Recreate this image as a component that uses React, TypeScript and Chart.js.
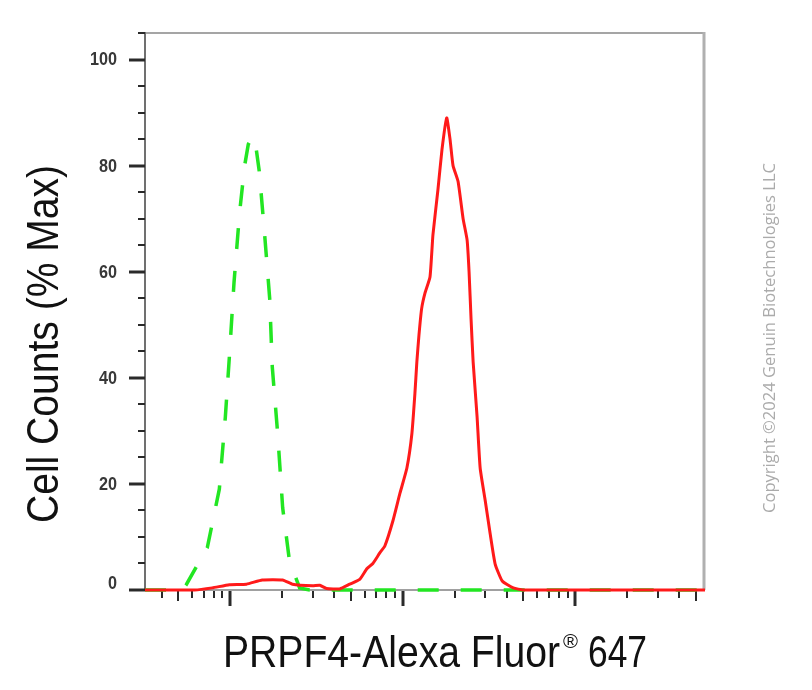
import { useEffect, useRef } from "react";
import { Chart, registerables } from "chart.js";

Chart.register(...registerables);

// ---- data (fluorescence intensity, % of max) ----
const redX = [3.2, 6.2, 7.85, 9.87, 12.4, 15.3, 20.1, 22.9, 30.0, 33.0, 36.1, 43.0, 49.2, 56.2, 61.8, 67.0, 73.5, 78.6, 87.5, 96.1, 105.5, 112.8, 117.4, 120.5, 123.9, 128.4, 134.4, 143.6, 149.4, 159.6, 168.5, 179.5, 187.6, 195.3, 208.9, 223.4, 235.6, 241.9, 248.5, 255.4, 269.3, 280.5, 299.9, 320.6, 342.7, 376.7, 436.5, 498.9, 5640];
const redY = [0, 0, 0.4, 1, 1.1, 1.9, 1.9, 1.1, 0.8, 0.9, 0.3, 0.2, 1.1, 2, 4, 5, 7, 8.3, 13, 18.2, 23, 29.5, 37, 43, 48, 53, 56, 59, 67, 75.4, 83, 89, 85, 80, 77, 70, 66, 60, 51, 43, 32.6, 23, 16.9, 10.6, 4.9, 1.7, 0.4, 0, 0];

const greenX = [3.2, 5.26, 5.55, 7.35, 8.63, 9.35, 9.87, 10.5, 11.3, 12.1, 12.7, 13.4, 14.0, 14.7, 15.8, 16.9, 17.5, 18.8, 20.1, 22.0, 25.2, 28.8, 5640];
const greenY = [0, 0, 1, 8, 19, 32.6, 44, 58, 71, 80, 84, 85.5, 84, 79, 67, 55, 42, 29.5, 15.5, 5.5, 0.4, 0, 0];

const yTickValues = [0, 20, 40, 60, 80, 100];
const yTickLabels = ["0", "20", "40", "60", "80", "100"];
const X_MIN = 3.2;
const X_MAX = 5640;
const Y_MIN = 0;
const Y_MAX = 105;

const yTitle = "Cell Counts (% Max)";
const xTitleMain = "PRPF4-Alexa Fluor";
const xTitleMark = "®";
const xTitleEnd = "647";
const copyright = "Copyright ©2024 Genuin Biotechnologies LLC";

const SANS = "'Liberation Sans', Arial, sans-serif";

function fitText(ctx: CanvasRenderingContext2D, text: string, x: number, y: number, font: string, width: number, align: CanvasTextAlign) {
  ctx.save();
  ctx.font = font;
  const w = ctx.measureText(text).width;
  const sx = width / w;
  ctx.translate(x, y);
  ctx.scale(sx, 1);
  ctx.textAlign = align;
  ctx.textBaseline = "alphabetic";
  ctx.fillText(text, 0, 0);
  ctx.restore();
}

const framePlugin = {
  id: "framePlugin",
  beforeDatasetsDraw(chart: any) {
    const { ctx, chartArea: a, scales } = chart;
    const x = scales.x;
    const y = scales.y;
    ctx.save();
    ctx.lineCap = "butt";
    // top
    ctx.strokeStyle = "#a5a5a5";
    ctx.lineWidth = 2;
    ctx.beginPath();
    ctx.moveTo(a.left, a.top);
    ctx.lineTo(a.right, a.top);
    ctx.stroke();
    // right
    ctx.strokeStyle = "#b0b0b0";
    ctx.lineWidth = 3;
    ctx.beginPath();
    ctx.moveTo(a.right - 1, a.top - 1);
    ctx.lineTo(a.right - 1, a.bottom);
    ctx.stroke();
    // bottom
    ctx.strokeStyle = "#a0a0a0";
    ctx.lineWidth = 2;
    ctx.beginPath();
    ctx.moveTo(a.left, a.bottom);
    ctx.lineTo(a.right, a.bottom);
    ctx.stroke();
    // left
    ctx.strokeStyle = "#707070";
    ctx.lineWidth = 2;
    ctx.beginPath();
    ctx.moveTo(a.left, a.top - 1);
    ctx.lineTo(a.left, a.bottom + 1);
    ctx.stroke();

    // y ticks
    ctx.strokeStyle = "#2a2a2a";
    for (let v = Y_MIN; v <= Y_MAX; v += 5) {
      const py = Math.round(y.getPixelForValue(v));
      const major = v % 20 === 0;
      ctx.lineWidth = major ? 3 : 2;
      const len = major ? 16 : 7;
      ctx.beginPath();
      ctx.moveTo(a.left - len, py);
      ctx.lineTo(a.left, py);
      ctx.stroke();
    }
    // x ticks (log decades)
    for (const dec of [1, 10, 100, 1000]) {
      for (let m = 1; m <= 9; m++) {
        const v = m * dec;
        if (v < X_MIN || v > X_MAX) continue;
        const px = Math.round(x.getPixelForValue(v));
        const len = m === 1 ? 15 : m === 5 ? 10 : 7;
        ctx.lineWidth = m === 1 ? 3 : 2;
        ctx.beginPath();
        ctx.moveTo(px, a.bottom + 1);
        ctx.lineTo(px, a.bottom + 1 + len);
        ctx.stroke();
      }
    }
    ctx.restore();
  },
  afterDraw(chart: any) {
    const { ctx, chartArea: a, scales } = chart;
    const y = scales.y;
    ctx.save();
    // y tick labels
    ctx.fillStyle = "#383838";
    ctx.font = `bold 18px ${SANS}`;
    yTickValues.forEach((v, i) => {
      const py = y.getPixelForValue(v) + (v === 0 ? -7 : 0);
      ctx.save();
      ctx.translate(a.left - 28, py);
      ctx.scale(0.9, 1);
      ctx.textAlign = "right";
      ctx.textBaseline = "middle";
      ctx.fillText(yTickLabels[i], 0, 1);
      ctx.restore();
    });

    // y title
    ctx.fillStyle = "#111111";
    ctx.save();
    ctx.translate(58, 344);
    ctx.rotate(-Math.PI / 2);
    fitText(ctx, yTitle, 0, 0, `44px ${SANS}`, 358, "center");
    ctx.restore();

    // x title
    ctx.fillStyle = "#111111";
    fitText(ctx, xTitleMain, 223, 667, `44px ${SANS}`, 337, "left");
    fitText(ctx, xTitleMark, 563, 648, `20px ${SANS}`, 15, "left");
    fitText(ctx, xTitleEnd, 588, 667, `44px ${SANS}`, 59, "left");

    // copyright
    ctx.fillStyle = "#ababab";
    ctx.save();
    ctx.translate(775, 338);
    ctx.rotate(-Math.PI / 2);
    fitText(ctx, copyright, 0, 0, `16px 'Open Sans', sans-serif`, 350, "center");
    ctx.restore();

    ctx.restore();
  },
};

export default function App() {
  const ref = useRef<HTMLCanvasElement>(null);
  useEffect(() => {
    const canvas = ref.current;
    if (!canvas) return;
    const chart = new Chart(canvas, {
      type: "scatter",
      data: {
        datasets: [
          {
            label: "PRPF4",
            data: redX.map((v, i) => ({ x: v, y: redY[i] })),
            showLine: true,
            borderColor: "#ff1a1a",
            borderWidth: 3,
            pointRadius: 0,
            tension: 0.15,
            fill: false,
          },
          {
            label: "Isotype control",
            data: greenX.map((v, i) => ({ x: v, y: greenY[i] })),
            showLine: true,
            borderColor: "#22e622",
            borderWidth: 3.5,
            borderDash: [21, 22],
            pointRadius: 0,
            tension: 0,
            fill: false,
          },
        ],
      },
      options: {
        responsive: false,
        animation: false,
        devicePixelRatio: 1,
        clip: false as any,
        layout: { padding: { top: 33, right: 107, left: 0, bottom: 0 } },
        plugins: {
          legend: { display: false },
          tooltip: { enabled: false },
          title: { display: false },
        },
        scales: {
          x: {
            type: "logarithmic",
            min: X_MIN,
            max: X_MAX,
            ticks: { display: false },
            grid: { display: false },
            border: { display: false },
            afterFit: (s: any) => {
              s.height = 100;
            },
          },
          y: {
            type: "linear",
            min: Y_MIN,
            max: Y_MAX,
            ticks: { display: false },
            grid: { display: false },
            border: { display: false },
            afterFit: (s: any) => {
              s.width = 145;
            },
          },
        },
      },
      plugins: [framePlugin],
    });
    return () => chart.destroy();
  }, []);
  return (
    <div style={{ position: "fixed", left: 0, top: 0, width: 812, height: 690, background: "#fff" }}>
      <canvas ref={ref} width={812} height={690} style={{ display: "block", width: "812px", height: "690px" }} />
    </div>
  );
}
